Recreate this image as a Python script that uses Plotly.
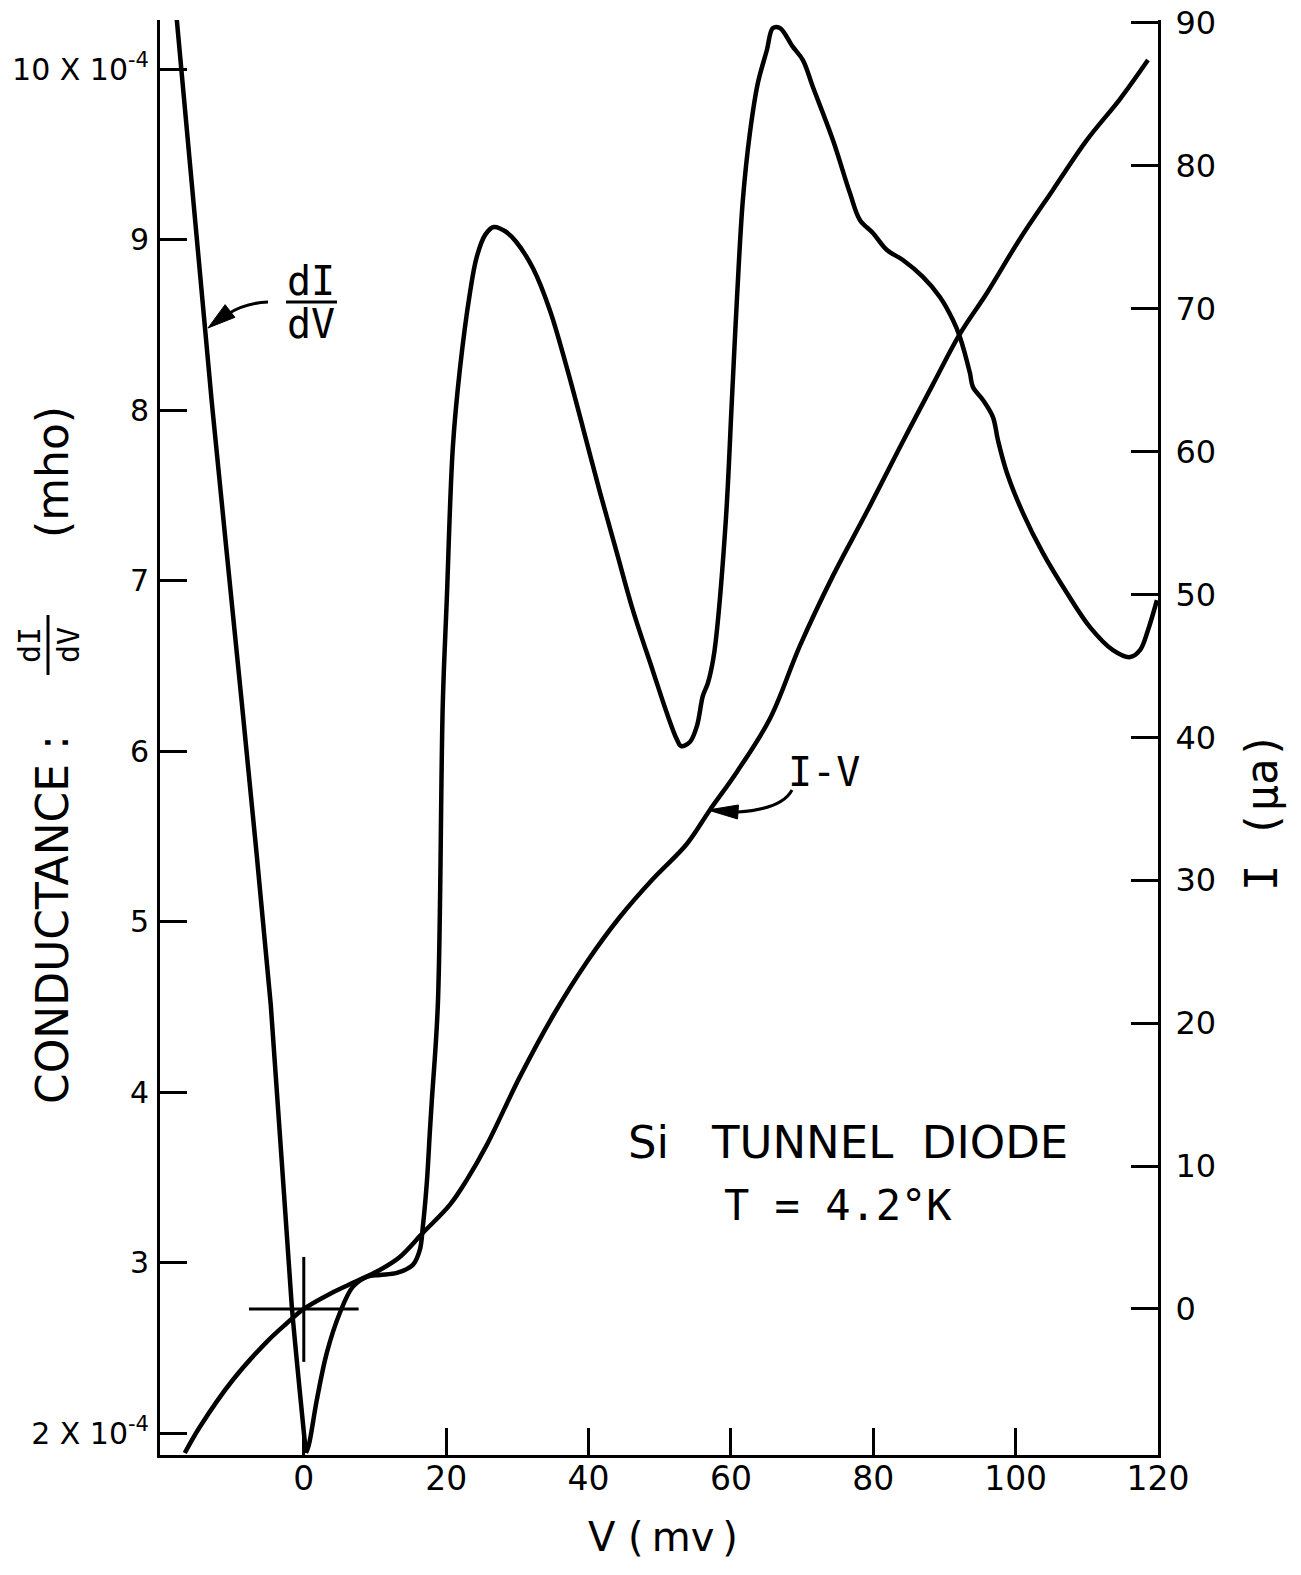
import plotly.graph_objects as go

# ---------------- data ----------------
# Conductance dI/dV  (x10^-4 mho) vs V (mV); left branch first, tip, then the rest
V_didv = [-17.84, -12.93, -8.71, -4.64, -1.69, 0.30,
          0.70, 1.83, 3.23, 5.06,
          6.88, 8.85, 10.68, 13.07, 15.32, 16.30, 16.72, 17.28, 17.70, 17.99, 18.83, 19.53,
          20.09, 20.94, 21.92, 23.32, 24.30, 25.50, 26.70, 28.30, 29.80, 32.18, 34.57, 36.95, 39.20,
          41.59, 43.98, 46.23, 49.04, 51.00, 52.40, 53.00, 54.24, 55.23, 56.06, 56.77, 57.47,
          57.89, 59.29, 60.14, 60.84, 61.68, 62.67, 63.79, 65.06, 65.90, 66.88, 68.71, 70.11,
          71.52, 74.33, 76.72, 78.12, 79.95, 81.92, 84.16, 86.97, 89.36, 91.19, 92.17, 93.58,
          94.00, 95.41, 96.81, 97.51, 98.78, 101.03, 103.84, 107.21, 110.44, 113.67, 116.06,
          117.47, 118.59, 119.85]
G_didv = [10.29, 8.049, 6.284, 4.513, 2.747, 1.884,
          1.93, 2.195, 2.471, 2.705,
          2.858, 2.917, 2.928, 2.940, 2.987, 3.075, 3.210, 3.468, 3.761, 3.954, 4.512, 6.283,
          6.893, 7.784, 8.237, 8.683, 8.900, 9.030, 9.075, 9.050, 8.990, 8.834, 8.587, 8.250, 7.900,
          7.521, 7.163, 6.828, 6.471, 6.224, 6.070, 6.030, 6.054, 6.148, 6.324, 6.400, 6.529,
          6.652, 7.357, 8.060, 8.646, 9.233, 9.626, 9.919, 10.113, 10.242, 10.242, 10.131, 10.054,
          9.896, 9.585, 9.274, 9.116, 9.040, 8.940, 8.881, 8.782, 8.664, 8.529, 8.430, 8.218,
          8.136, 8.060, 7.960, 7.825, 7.632, 7.397, 7.162, 6.928, 6.728, 6.593, 6.552,
          6.593, 6.710, 6.886]
TIP = 5  # index of the sharp minimum near V = 0

# I-V characteristic  (micro-amp) vs V (mV)
V_iv = [-16.72, -14.61, -9.98, -5.20, -2.50, 0.00, 3.65, 7.45, 10.68, 13.49, 16.72, 20.51,
        22.90, 25.71, 30.35, 34.99, 39.76, 44.40, 49.04, 53.81, 57.05, 60.84, 65.48,
        69.69, 74.33, 79.11, 83.74, 88.38, 92.17, 95.97, 100.60, 105.24, 110.02, 114.66, 118.59]
I_iv = [-10.08, -8.26, -4.97, -2.30, -1.05, 0.00, 1.05, 1.95, 2.73, 3.64, 5.32, 7.28,
        9.03, 11.48, 16.24, 20.50, 24.28, 27.43, 30.09, 32.54, 34.92, 37.58, 41.30,
        46.40, 51.30, 55.80, 60.30, 64.70, 68.23, 71.10, 74.88, 78.31, 81.81, 84.67, 87.40]

# origin cross of the I-V curve
cross_h_V = [-7.7, 7.7]
cross_h_I = [0, 0]
cross_v_V = [0, 0]
cross_v_I = [3.64, -3.7]

v_ticks = [0, 20, 40, 60, 80, 100, 120]
g_ticks = [2, 3, 4, 5, 6, 7, 8, 9, 10]
g_ticktext = ["2 X 10<sup>-4</sup>", "3", "4", "5", "6", "7", "8", "9", "10 X 10<sup>-4</sup>"]
i_ticks = [0, 10, 20, 30, 40, 50, 60, 70, 80, 90]

# ---------------- figure ----------------
FONT = "DejaVu Sans"
MONO = "DejaVu Sans Mono"
W, H = 1301, 1575
L, R, T, B = 160, 1158, 20, 1455   # plot area in page pixels


def px(x):
    return (x - L) / (R - L)


def py(y):
    return (B - y) / (B - T)


fig = go.Figure()
fig.add_trace(go.Scatter(x=V_didv[:TIP + 1], y=G_didv[:TIP + 1], mode="lines",
                         line=dict(color="black", width=4.5, shape="spline", smoothing=0.6),
                         yaxis="y", hoverinfo="skip"))
fig.add_trace(go.Scatter(x=V_didv[TIP:], y=G_didv[TIP:], mode="lines",
                         line=dict(color="black", width=4.5, shape="spline", smoothing=1.0),
                         yaxis="y", hoverinfo="skip"))
fig.add_trace(go.Scatter(x=V_iv, y=I_iv, mode="lines",
                         line=dict(color="black", width=4.5, shape="spline", smoothing=1.0),
                         yaxis="y2", hoverinfo="skip"))
fig.add_trace(go.Scatter(x=cross_h_V, y=cross_h_I, mode="lines", line=dict(color="black", width=3),
                         yaxis="y2", hoverinfo="skip"))
fig.add_trace(go.Scatter(x=cross_v_V, y=cross_v_I, mode="lines", line=dict(color="black", width=3),
                         yaxis="y2", hoverinfo="skip"))

ax_common = dict(showline=True, linecolor="black", linewidth=3, ticks="inside", ticklen=27,
                 tickwidth=3, tickcolor="black", showgrid=False, zeroline=False,
                 automargin=False, ticklabeloverflow="allow",
                 tickfont=dict(family=FONT, size=32, color="black"))

fig.update_layout(
    width=W, height=H, template="none", showlegend=False,
    paper_bgcolor="white", plot_bgcolor="white",
    margin=dict(l=L, r=W - R, t=T, b=H - B, pad=0),
    xaxis=dict(ax_common, range=[-20.2, 120], tickvals=v_ticks,
               tickfont=dict(family=FONT, size=33, color="black"), ticklabelstandoff=-8),
    yaxis=dict(ax_common, range=[1.872, 10.289], tickvals=g_ticks, ticktext=g_ticktext,
               tickfont=dict(family=FONT, size=30, color="black"), ticklabelstandoff=2),
    yaxis2=dict(ax_common, range=[-10.22, 90.2], tickvals=i_ticks, overlaying="y", side="right",
                ticklabelstandoff=8),
)

ann = []


def text(x, y, s, size, angle=0, family=FONT):
    ann.append(dict(x=px(x), y=py(y), xref="paper", yref="paper", text=s, showarrow=False,
                    xanchor="center", yanchor="middle", textangle=angle,
                    font=dict(family=family, size=size, color="black")))


NB = "\u00a0"
TH = "\u2009"
# axis titles
text(663, 1537, "V" + NB + "(" + TH + "mv" + TH + ")", 40)
text(53, 920, "CONDUCTANCE" + NB + ":", 44, -90)
text(29, 645, "dI", 30, -90, MONO)
text(68, 645, "dV", 30, -90, MONO)
text(52, 472, "(mho)", 44, -90)
text(1262, 812, "I" + NB + "(μa)", 44, -90, MONO)

# curve labels and caption
text(311, 281, "dI", 40, 0, MONO)
text(311, 324, "dV", 40, 0, MONO)
text(824, 772, "I-V", 40, 0, MONO)
text(848, 1142, "Si" + NB * 3 + "TUNNEL" + NB * 2 + "DIODE", 45)
text(838, 1205, "T = 4.2°K", 42, 0, MONO)

fig.update_layout(annotations=ann)

shapes = []


def seg(x0, y0, x1, y1, w=3):
    shapes.append(dict(type="line", xref="paper", yref="paper", x0=px(x0), y0=py(y0),
                       x1=px(x1), y1=py(y1), line=dict(color="black", width=w)))


def curve(p0, c, p1, w=3):
    path = "M %f,%f Q %f,%f %f,%f" % (px(p0[0]), py(p0[1]), px(c[0]), py(c[1]), px(p1[0]), py(p1[1]))
    shapes.append(dict(type="path", xref="paper", yref="paper", path=path,
                       line=dict(color="black", width=w)))


def head(tip, base, half):
    dx, dy = tip[0] - base[0], tip[1] - base[1]
    n = (dx * dx + dy * dy) ** 0.5
    nx, ny = -dy / n * half, dx / n * half
    pts = [tip, (base[0] + nx, base[1] + ny), (base[0] - nx, base[1] - ny)]
    path = "M " + " L ".join("%f,%f" % (px(a), py(b)) for a, b in pts) + " Z"
    shapes.append(dict(type="path", xref="paper", yref="paper", path=path,
                       fillcolor="black", line=dict(color="black", width=1)))


# fraction bars
seg(286, 302, 337, 302)
seg(48, 615, 48, 675)

# arrows
curve((268, 302), (245, 303), (228, 314), 3)
head((208, 328), (230, 311), 8)
curve((792, 790), (782, 809), (738, 812), 3)
head((708, 810), (738, 812), 7)

fig.update_layout(shapes=shapes)
fig.write_html("out.html", config={"displayModeBar": False},
               post_script="document.body.style.margin='0px';")
